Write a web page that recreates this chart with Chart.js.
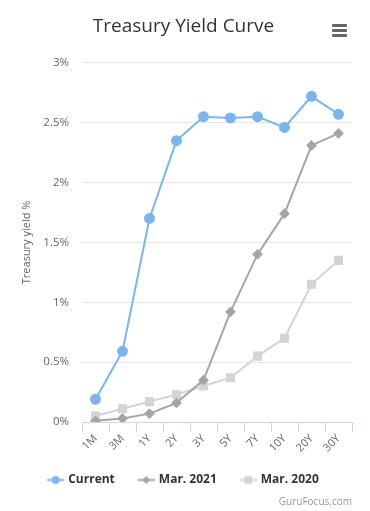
<!DOCTYPE html>
<html lang="en">
<head>
  <meta charset="UTF-8">
  <title>Treasury Yield Curve</title>
  <style>
    body { margin: 0; background: #fff; }
    #wrap { position: relative; width: 370px; height: 511px; }
    #menu { position: absolute; left: 332px; top: 24px; width: 15px; }
    #menu span { display: block; height: 3px; background: #666; margin-bottom: 2px; border-radius: 1px; }
  </style>
</head>
<body>
  <div id="wrap">
    <canvas id="curva" width="370" height="511"></canvas>
    <div id="menu"><span></span><span></span><span></span></div>
  </div>

  <script src="https://cdn.jsdelivr.net/npm/chart.js"></script>
  <script>
    // datos
    const plazos = ['1M', '3M', '1Y', '2Y', '3Y', '5Y', '7Y', '10Y', '20Y', '30Y'];
    const actual = [0.19, 0.59, 1.70, 2.35, 2.55, 2.54, 2.55, 2.46, 2.72, 2.57];
    const mar2021 = [0.01, 0.03, 0.07, 0.16, 0.35, 0.92, 1.40, 1.74, 2.31, 2.41];
    const mar2020 = [0.05, 0.11, 0.17, 0.23, 0.30, 0.37, 0.55, 0.70, 1.15, 1.35];
    const yTicks = [0, 0.5, 1, 1.5, 2, 2.5, 3];

    const azul = '#7cb5ec', gris = '#a5a5a5', grisClaro = '#d4d4d4';

    // simbolo de leyenda: hueco a la izquierda + linea + marcador
    function simbolo(color, forma) {
      const c = document.createElement('canvas');
      c.width = 32; c.height = 11;
      const g = c.getContext('2d');
      const x0 = 15, cx = x0 + 8.5;
      g.strokeStyle = color; g.lineWidth = 2;
      g.beginPath(); g.moveTo(x0, 5.5); g.lineTo(x0 + 17, 5.5); g.stroke();
      g.fillStyle = color;
      g.beginPath();
      if (forma === 'circle') g.arc(cx, 5.5, 4, 0, Math.PI * 2);
      else if (forma === 'diamond') { g.moveTo(cx, 1.5); g.lineTo(cx + 4, 5.5); g.lineTo(cx, 9.5); g.lineTo(cx - 4, 5.5); g.closePath(); }
      else g.rect(cx - 4, 1.5, 8, 8);
      g.fill();
      return c;
    }
    const simbolos = [simbolo(azul, 'circle'), simbolo(gris, 'diamond'), simbolo(grisClaro, 'rect')];

    // el hueco del primer simbolo descentra la leyenda: la corremos un poco
    const moverLeyenda = {
      id: 'moverLeyenda',
      afterLayout(chart) {
        chart.legend.left -= 14;
      }
    };

    new Chart(document.getElementById('curva'), {
      type: 'line',
      data: {
        labels: plazos,
        datasets: [
          { label: 'Current', data: actual, borderColor: azul, backgroundColor: azul, borderWidth: 2,
            pointStyle: 'circle', pointRadius: 4.5, pointHoverRadius: 4.5, tension: 0, order: 1 },
          { label: 'Mar. 2021', data: mar2021, borderColor: gris, backgroundColor: gris, borderWidth: 2,
            pointStyle: 'rectRot', pointRadius: 4, pointHoverRadius: 4, tension: 0, order: 2 },
          { label: 'Mar. 2020', data: mar2020, borderColor: grisClaro, backgroundColor: grisClaro, borderWidth: 2,
            pointStyle: 'rect', pointRadius: 5, pointHoverRadius: 5, tension: 0, order: 3 }
        ]
      },
      plugins: [moverLeyenda],
      options: {
        responsive: false,
        animation: false,
        layout: { padding: { left: 15, right: 18, top: 0, bottom: 0 } },
        plugins: {
          title: {
            display: true, text: 'Treasury Yield Curve', color: '#333',
            font: { family: 'Open Sans', size: 19, weight: 'normal' },
            padding: { top: 15, bottom: 25 }
          },
          subtitle: {
            display: true, text: 'GuruFocus.com', position: 'bottom', align: 'end', color: '#999',
            font: { family: 'Open Sans', size: 10 },
            padding: { top: 0, bottom: 3 }
          },
          legend: {
            position: 'bottom',
            labels: {
              usePointStyle: true, pointStyleWidth: 28, boxHeight: 11, padding: 10,
              color: '#333', font: { family: 'Open Sans', size: 12, weight: 'bold' },
              generateLabels(chart) {
                const items = Chart.defaults.plugins.legend.labels.generateLabels(chart);
                items.forEach((it, i) => { it.pointStyle = simbolos[i]; });
                return items;
              }
            }
          },
          tooltip: { enabled: false }
        },
        scales: {
          x: {
            offset: true,
            grid: { display: true, drawOnChartArea: false, drawTicks: true, tickLength: 10, color: '#ccd6eb', offset: true },
            border: { color: '#ccd6eb' },
            ticks: { color: '#666', maxRotation: 45, minRotation: 45, padding: 0,
              font: { family: 'Open Sans', size: 11 } },
            afterFit(s) { s.height = 42; }
          },
          y: {
            min: 0, max: 3,
            afterBuildTicks(s) { s.ticks = yTicks.map(v => ({ value: v })); },
            grid: { color: '#e6e6e6', drawTicks: false },
            border: { display: false },
            ticks: { color: '#666', padding: 13, font: { family: 'Open Sans', size: 11.5 },
              callback: v => v + '%' },
            title: { display: true, text: 'Treasury yield %', color: '#666',
              font: { family: 'Open Sans', size: 11 }, padding: { top: 5, bottom: 0 } },
            afterFit(s) { s.width = 67; }
          }
        }
      }
    });
  </script>
</body>
</html>
